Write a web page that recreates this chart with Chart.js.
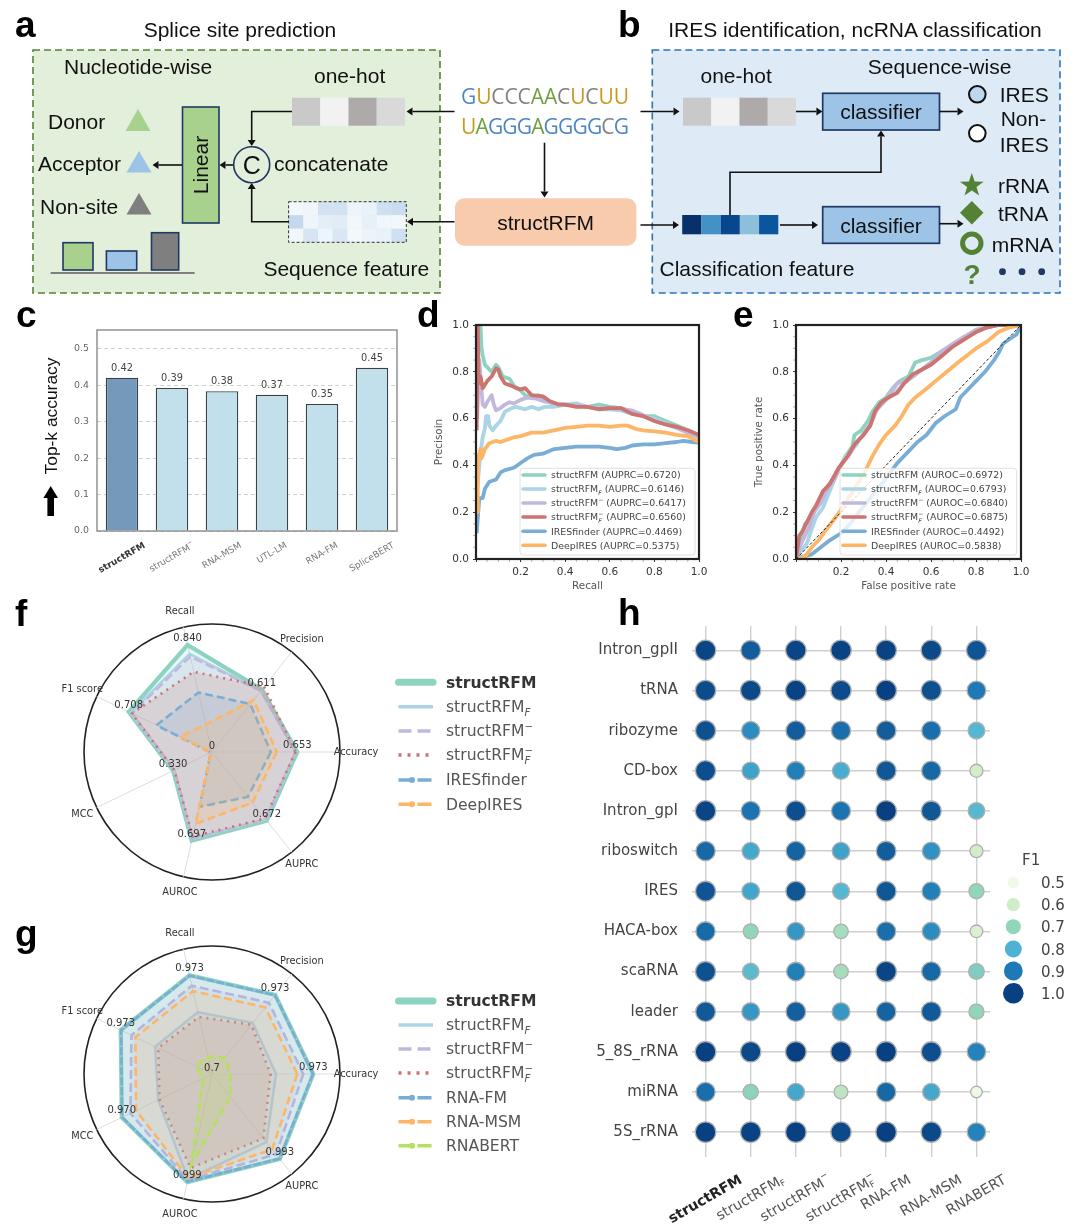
<!DOCTYPE html>
<html>
<head>
<meta charset="utf-8">
<title>structRFM figure</title>
<script src="https://cdn.jsdelivr.net/npm/chart.js@4"></script>
<style>
html, body { margin: 0; padding: 0; background: #fff; }
#page { position: relative; width: 1080px; height: 1232px; overflow: hidden; filter: blur(0.35px); }
#page canvas { position: absolute; }
#overlay { position: absolute; left: 0; top: 0; }
</style>
</head>
<body>
<div id="page"></div>
<script>
// panel c
var topkModels = ["structRFM", "structRFM⁻", "RNA-MSM", "UTL-LM", "RNA-FM", "SpliceBERT"];
var topkValues = [0.421, 0.393, 0.384, 0.374, 0.349, 0.448];

// panel d, precision-recall curves [recall, precision]
var prStructRFM = [[0.015,1],[0.02,1],[0.025,0.9],[0.03,0.87],[0.04,0.83],[0.05,0.82],[0.07,0.8],[0.09,0.83],[0.1,0.82],[0.12,0.78],[0.15,0.77],[0.17,0.74],[0.2,0.72],[0.22,0.7],[0.25,0.69],[0.28,0.7],[0.3,0.69],[0.33,0.67],[0.37,0.66],[0.4,0.66],[0.45,0.655],[0.5,0.65],[0.55,0.66],[0.6,0.65],[0.65,0.645],[0.7,0.63],[0.75,0.61],[0.8,0.61],[0.85,0.59],[0.9,0.57],[0.95,0.55],[1,0.53]];
var prStructRFMF = [[0.005,0.3],[0.02,0.45],[0.03,0.52],[0.04,0.56],[0.045,0.61],[0.055,0.61],[0.06,0.57],[0.075,0.55],[0.09,0.57],[0.11,0.59],[0.13,0.63],[0.16,0.645],[0.18,0.65],[0.2,0.645],[0.22,0.64],[0.25,0.65],[0.28,0.64],[0.31,0.65],[0.35,0.65],[0.4,0.66],[0.45,0.665],[0.5,0.65],[0.55,0.64],[0.6,0.64],[0.65,0.635],[0.7,0.62],[0.75,0.61],[0.8,0.6],[0.85,0.58],[0.9,0.56],[0.95,0.55],[1,0.52]];
var prStructRFMm = [[0.005,0.6],[0.015,0.85],[0.02,0.78],[0.03,0.66],[0.04,0.65],[0.05,0.67],[0.07,0.7],[0.08,0.66],[0.09,0.635],[0.11,0.645],[0.13,0.66],[0.15,0.67],[0.17,0.665],[0.2,0.68],[0.23,0.69],[0.27,0.685],[0.3,0.675],[0.35,0.665],[0.4,0.66],[0.45,0.655],[0.5,0.65],[0.55,0.645],[0.6,0.645],[0.65,0.64],[0.7,0.635],[0.75,0.615],[0.8,0.59],[0.85,0.575],[0.9,0.56],[0.95,0.54],[1,0.52]];
var prStructRFMFm = [[0.003,0.55],[0.008,1],[0.012,0.75],[0.02,0.78],[0.03,0.73],[0.05,0.76],[0.07,0.78],[0.09,0.815],[0.1,0.81],[0.11,0.78],[0.13,0.75],[0.16,0.74],[0.18,0.73],[0.2,0.725],[0.22,0.73],[0.25,0.7],[0.3,0.695],[0.33,0.675],[0.37,0.66],[0.4,0.66],[0.45,0.65],[0.5,0.65],[0.55,0.64],[0.6,0.645],[0.65,0.645],[0.7,0.62],[0.75,0.61],[0.8,0.59],[0.85,0.575],[0.9,0.565],[0.95,0.55],[1,0.53]];
var prIRESfinder = [[0.003,0.11],[0.01,0.2],[0.015,0.26],[0.03,0.26],[0.04,0.3],[0.06,0.33],[0.09,0.34],[0.11,0.37],[0.13,0.38],[0.17,0.39],[0.2,0.41],[0.23,0.43],[0.26,0.445],[0.3,0.45],[0.35,0.47],[0.4,0.475],[0.45,0.48],[0.5,0.48],[0.55,0.48],[0.6,0.475],[0.63,0.47],[0.67,0.475],[0.7,0.485],[0.75,0.49],[0.8,0.49],[0.85,0.495],[0.9,0.5],[0.93,0.505],[0.97,0.5],[1,0.497]];
var prDeepIRES = [[0.005,0.2],[0.008,0.35],[0.01,0.43],[0.02,0.47],[0.025,0.43],[0.04,0.47],[0.06,0.495],[0.09,0.505],[0.11,0.5],[0.14,0.51],[0.17,0.52],[0.2,0.525],[0.25,0.54],[0.3,0.54],[0.35,0.55],[0.4,0.56],[0.45,0.565],[0.5,0.57],[0.55,0.57],[0.6,0.565],[0.65,0.57],[0.68,0.57],[0.72,0.555],[0.75,0.55],[0.8,0.545],[0.85,0.54],[0.9,0.53],[0.95,0.525],[1,0.5]];
var auprcValues = ["0.6720", "0.6146", "0.6417", "0.6560", "0.4469", "0.5375"];

// panel e, ROC curves [fpr, tpr]
var rocStructRFM = [[0,0],[0.01,0.05],[0.02,0.09],[0.04,0.15],[0.06,0.17],[0.08,0.2],[0.1,0.24],[0.12,0.28],[0.14,0.31],[0.17,0.35],[0.2,0.4],[0.22,0.44],[0.25,0.48],[0.26,0.53],[0.29,0.55],[0.32,0.59],[0.34,0.63],[0.37,0.67],[0.4,0.69],[0.43,0.73],[0.46,0.76],[0.5,0.78],[0.53,0.84],[0.56,0.85],[0.6,0.86],[0.65,0.89],[0.7,0.92],[0.75,0.95],[0.8,0.97],[0.85,0.99],[0.9,1],[1,1]];
var rocStructRFMF = [[0,0],[0.02,0.03],[0.05,0.07],[0.07,0.13],[0.09,0.18],[0.12,0.22],[0.15,0.29],[0.18,0.36],[0.21,0.42],[0.24,0.46],[0.27,0.49],[0.3,0.54],[0.33,0.58],[0.36,0.64],[0.4,0.68],[0.44,0.71],[0.48,0.75],[0.52,0.78],[0.56,0.81],[0.6,0.84],[0.65,0.88],[0.7,0.92],[0.75,0.95],[0.8,0.97],[0.85,0.99],[0.9,1],[1,1]];
var rocStructRFMm = [[0,0],[0.02,0.06],[0.04,0.1],[0.06,0.14],[0.08,0.2],[0.11,0.24],[0.14,0.3],[0.17,0.34],[0.2,0.4],[0.24,0.45],[0.27,0.5],[0.3,0.53],[0.33,0.57],[0.36,0.64],[0.39,0.67],[0.42,0.71],[0.45,0.75],[0.48,0.76],[0.52,0.78],[0.56,0.81],[0.6,0.84],[0.65,0.89],[0.7,0.92],[0.75,0.95],[0.8,0.98],[0.85,0.99],[0.9,1],[1,1]];
var rocStructRFMFm = [[0,0],[0.015,0.1],[0.03,0.12],[0.05,0.16],[0.07,0.2],[0.09,0.23],[0.12,0.29],[0.15,0.32],[0.19,0.39],[0.23,0.44],[0.26,0.49],[0.3,0.53],[0.33,0.57],[0.35,0.63],[0.38,0.67],[0.41,0.69],[0.45,0.71],[0.48,0.75],[0.52,0.79],[0.56,0.81],[0.6,0.83],[0.65,0.87],[0.7,0.91],[0.75,0.94],[0.8,0.97],[0.85,0.99],[0.9,1],[1,1]];
var rocIRESfinder = [[0,0],[0.03,0.01],[0.07,0.02],[0.11,0.05],[0.15,0.08],[0.2,0.11],[0.24,0.15],[0.28,0.2],[0.33,0.26],[0.38,0.32],[0.42,0.37],[0.45,0.41],[0.5,0.46],[0.54,0.5],[0.58,0.53],[0.62,0.58],[0.66,0.61],[0.71,0.64],[0.73,0.69],[0.76,0.72],[0.8,0.76],[0.84,0.8],[0.88,0.85],[0.9,0.88],[0.92,0.92],[0.95,0.94],[0.98,0.96],[1,1]];
var rocDeepIRES = [[0,0],[0.04,0.01],[0.07,0.05],[0.1,0.08],[0.13,0.12],[0.17,0.17],[0.2,0.21],[0.24,0.27],[0.28,0.33],[0.31,0.38],[0.34,0.44],[0.37,0.49],[0.4,0.53],[0.44,0.57],[0.47,0.61],[0.5,0.66],[0.53,0.69],[0.57,0.72],[0.62,0.76],[0.67,0.8],[0.72,0.84],[0.76,0.87],[0.8,0.9],[0.85,0.93],[0.9,0.97],[0.95,0.99],[1,1]];
var rocDiagonal = [[0,0],[1,1]];
var aurocValues = ["0.6972", "0.6793", "0.6840", "0.6875", "0.4492", "0.5838"];

var curveNames = ["structRFM", "structRFM_F", "structRFM⁻", "structRFM_F⁻", "IRESfinder", "DeepIRES"];

// panels f and g, clockwise from the east
var radarAxes = ["Accuracy", "AUPRC", "AUROC", "MCC", "F1 score", "Recall", "Precision"];

var fStructRFM = [0.653, 0.672, 0.697, 0.330, 0.708, 0.840, 0.611];
var fStructRFMF = [0.64, 0.66, 0.68, 0.32, 0.69, 0.77, 0.60];
var fStructRFMm = [0.64, 0.66, 0.68, 0.32, 0.68, 0.75, 0.60];
var fStructRFMFm = [0.64, 0.65, 0.665, 0.32, 0.68, 0.63, 0.64];
var fIRESfinder = [0.45, 0.44, 0.43, 0.01, 0.472, 0.467, 0.47];
var fDeepIRES = [0.495, 0.497, 0.564, 0.01, 0.273, 0.215, 0.51];

var gStructRFM = [0.973, 0.993, 0.999, 0.970, 0.973, 0.973, 0.973];
var gStructRFMF = [0.8725, 0.935, 0.99, 0.861, 0.87, 0.871, 0.876];
var gStructRFMm = [0.946, 0.977, 0.993, 0.944, 0.941, 0.944, 0.946];
var gStructRFMFm = [0.858, 0.922, 0.96, 0.857, 0.861, 0.858, 0.87];
var gRNAFM = [0.972, 0.992, 0.998, 0.969, 0.972, 0.972, 0.972];
var gRNAMSM = [0.93, 0.96, 0.987, 0.927, 0.929, 0.929, 0.93];
var gRNABERT = [0.75, 0.779, 0.951, 0.727, 0.748, 0.748, 0.757];

// panel h
var ncrnaClasses = ["Intron_gpII", "tRNA", "ribozyme", "CD-box", "Intron_gpI", "riboswitch", "IRES", "HACA-box", "scaRNA", "leader", "5_8S_rRNA", "miRNA", "5S_rRNA"];
var f1Models = ["structRFM", "structRFM_F", "structRFM⁻", "structRFM_F⁻", "RNA-FM", "RNA-MSM", "RNABERT"];
var f1Intron2 = [0.99, 0.95, 0.99, 0.995, 0.995, 0.985, 0.965];
var f1Trna = [0.98, 0.985, 0.995, 0.98, 1.0, 0.97, 0.90];
var f1Ribozyme = [0.97, 0.87, 0.95, 0.92, 0.95, 0.92, 0.79];
var f1CdBox = [0.975, 0.83, 0.89, 0.81, 0.96, 0.93, 0.59];
var f1Intron1 = [0.99, 0.91, 0.975, 0.91, 1.0, 0.96, 0.785];
var f1Riboswitch = [0.93, 0.82, 0.94, 0.83, 0.95, 0.86, 0.59];
var f1Ires = [0.965, 0.825, 0.96, 0.79, 0.96, 0.89, 0.70];
var f1Haca = [0.925, 0.70, 0.85, 0.67, 0.92, 0.87, 0.57];
var f1Sca = [0.97, 0.78, 0.89, 0.67, 0.99, 0.93, 0.73];
var f1Leader = [0.955, 0.85, 0.945, 0.85, 0.94, 0.955, 0.70];
var f1Rna58 = [1.0, 0.985, 1.0, 0.995, 1.0, 0.975, 0.885];
var f1Mirna = [0.92, 0.71, 0.82, 0.63, 0.93, 0.82, 0.51];
var f1Rna5 = [1.0, 0.995, 1.0, 0.985, 1.0, 0.985, 0.885];
var f1Rows = [f1Intron2, f1Trna, f1Ribozyme, f1CdBox, f1Intron1, f1Riboswitch, f1Ires, f1Haca, f1Sca, f1Leader, f1Rna58, f1Mirna, f1Rna5];
var f1LegendTicks = [0.5, 0.6, 0.7, 0.8, 0.9, 1.0];

// series colours
var TEAL = "#8dd3c0", SKY = "#abd4e6", LAV = "#c2b8dc", RED = "#cb7470", BLUE = "#79add5", ORANGE = "#fdb566", LIME = "#b5e061";

Chart.defaults.font.family = '"DejaVu Sans"';
Chart.defaults.color = "#444";
Chart.defaults.animation = false;
Chart.defaults.responsive = false;
Chart.defaults.plugins.legend.display = false;
Chart.defaults.plugins.tooltip.enabled = false;

var page = document.getElementById("page");

function addChart(box, m, cfg) {
    var cv = document.createElement("canvas");
    cv.width = Math.round(box.w + m.l + m.r);
    cv.height = Math.round(box.h + m.t + m.b);
    cv.style.left = (box.x - m.l) + "px";
    cv.style.top = (box.y - m.t) + "px";
    page.appendChild(cv);
    cfg.options = cfg.options || {};
    var radial = cfg.type === "radar";
    cfg.options.layout = { autoPadding: false, padding: { top: m.t, right: m.r, left: radial ? m.l : 0, bottom: radial ? m.b : 0 } };
    if (cfg.options.scales && cfg.options.scales.x) cfg.options.scales.x.afterFit = function (s) {
        s.height = m.b; s.paddingLeft = 0; s.paddingRight = 0;
    };
    if (cfg.options.scales && cfg.options.scales.y) cfg.options.scales.y.afterFit = function (s) {
        s.width = m.l; s.paddingTop = 0; s.paddingBottom = 0;
    };
    return new Chart(cv.getContext("2d"), cfg);
}

// draws "structRFM", subscript F and superscript minus
function drawRich(ctx, label, x, size, weight, measureOnly) {
    var hit = /^(structRFM)(_F)?(⁻)?$/.exec(label);
    var mainText = hit ? hit[1] : label;
    ctx.font = weight + " " + size + 'px "DejaVu Sans"';
    var w = ctx.measureText(mainText).width;
    if (!measureOnly) ctx.fillText(mainText, x, 0);
    var extra = 0;
    if (hit && (hit[2] || hit[3])) {
        ctx.font = weight + " " + (size * 0.62) + 'px "DejaVu Sans"';
        if (hit[2]) {
            extra = ctx.measureText("F").width;
            if (!measureOnly) ctx.fillText("F", x + w, size * 0.25);
        }
        if (hit[3]) {
            extra = Math.max(extra, ctx.measureText("−").width);
            if (!measureOnly) ctx.fillText("−", x + w, -size * 0.42);
        }
    }
    return w + extra;
}

var tiltedLabels = {
    id: "tiltedLabels",
    afterDraw: function (chart, args, o) {
        var ctx = chart.ctx, sc = chart.scales.x, a = o.angle * Math.PI / 180;
        o.labels.forEach(function (lab, i) {
            var weight = i === 0 ? "bold" : "normal";
            ctx.save();
            var w = drawRich(ctx, lab, 0, o.size, weight, true);
            var bh = w * Math.sin(a) + o.size * Math.cos(a);
            ctx.translate(sc.getPixelForValue(i), chart.chartArea.bottom + o.top + bh / 2);
            ctx.rotate(-a);
            ctx.fillStyle = i === 0 ? o.boldColor : o.color;
            ctx.textBaseline = "middle";
            ctx.textAlign = "left";
            drawRich(ctx, lab, -w / 2, o.size, weight, false);
            ctx.restore();
        });
    }
};

var frame = {
    id: "frame",
    afterDraw: function (chart, args, o) {
        var a = chart.chartArea, ctx = chart.ctx;
        ctx.save();
        ctx.strokeStyle = o.color;
        ctx.lineWidth = o.width;
        ctx.strokeRect(a.left, a.top, a.right - a.left, a.bottom - a.top);
        ctx.restore();
    }
};

var minorTicks = {
    id: "minorTicks",
    afterDraw: function (chart) {
        var ctx = chart.ctx, a = chart.chartArea;
        ctx.save();
        ctx.strokeStyle = "#a3b9d8";
        ctx.lineWidth = 1;
        for (var k = 1; k < 20; k++) {
            if (k % 4 === 0) continue;
            var px = chart.scales.x.getPixelForValue(k / 20);
            var py = chart.scales.y.getPixelForValue(k / 20);
            ctx.beginPath();
            ctx.moveTo(px, a.bottom + 1); ctx.lineTo(px, a.bottom + 3);
            ctx.moveTo(a.left - 1, py); ctx.lineTo(a.left - 3, py);
            ctx.stroke();
        }
        ctx.restore();
    }
};

var barValues = {
    id: "barValues",
    afterDatasetsDraw: function (chart) {
        var ctx = chart.ctx, meta = chart.getDatasetMeta(0);
        ctx.save();
        ctx.font = '9.8px "DejaVu Sans"';
        ctx.fillStyle = "#444";
        ctx.textAlign = "center";
        ctx.textBaseline = "middle";
        meta.data.forEach(function (el, i) {
            ctx.fillText(topkValues[i].toFixed(2), el.x, el.y - 9.5);
        });
        ctx.restore();
    }
};

// panel c
addChart({ x: 97, y: 330, w: 300, h: 201 }, { l: 36, r: 8, t: 8, b: 60 }, {
    type: "bar",
    data: {
        labels: topkModels,
        datasets: [{
            data: topkValues,
            backgroundColor: ["#7499bb", "#c2e0ec", "#c2e0ec", "#c2e0ec", "#c2e0ec", "#c2e0ec"],
            borderColor: "#3a4248",
            borderWidth: 1.4,
            barPercentage: 0.65,
            categoryPercentage: 1
        }]
    },
    options: {
        scales: {
            x: { grid: { display: false }, border: { display: false }, ticks: { display: false } },
            y: {
                min: 0, max: 0.552,
                border: { display: false, dash: [4, 3] },
                grid: { color: "#c4c4c4", lineWidth: 0.8, drawTicks: false },
                ticks: { stepSize: 0.1, includeBounds: false, padding: 8, color: "#666", font: { size: 9.4 },
                    callback: function (v) { return v.toFixed(1); } }
            }
        },
        plugins: {
            frame: { color: "#8a8a8a", width: 1.4 },
            tiltedLabels: { labels: topkModels, angle: 30, size: 9, top: 10, color: "#777", boldColor: "#333" }
        }
    },
    plugins: [barValues, tiltedLabels, frame]
});

function curveDataset(points, color, order) {
    return { data: points, showLine: true, borderColor: color, borderWidth: 3.8, pointRadius: 0, order: order, tension: 0, borderJoinStyle: "round" };
}

function curveOptions(xTitle, yTitle) {
    function tick(v) { return v.toFixed(1); }
    return {
        scales: {
            x: {
                type: "linear", min: 0, max: 1, border: { display: false },
                grid: { drawOnChartArea: false, tickLength: 3, color: "#333" },
                title: { display: true, text: xTitle, color: "#555", font: { size: 10.4 }, padding: 0 },
                ticks: { stepSize: 0.2, padding: 4, color: "#333", font: { size: 10.5 }, maxRotation: 0,
                    callback: function (v) { return v === 0 ? "" : tick(v); } }
            },
            y: {
                type: "linear", min: 0, max: 1, border: { display: false },
                grid: { drawOnChartArea: false, tickLength: 3, color: "#333" },
                title: { display: true, text: yTitle, color: "#555", font: { size: 10.4 }, padding: 0 },
                ticks: { stepSize: 0.2, padding: 4, color: "#333", font: { size: 10.5 }, callback: tick }
            }
        },
        plugins: { frame: { color: "#222", width: 2.2 } }
    };
}

// panel d
addChart({ x: 476, y: 325, w: 223, h: 234 }, { l: 43, r: 12, t: 8, b: 34 }, {
    type: "scatter",
    data: { datasets: [
        curveDataset(prStructRFM, TEAL, 6),
        curveDataset(prStructRFMF, SKY, 5),
        curveDataset(prStructRFMm, LAV, 4),
        curveDataset(prStructRFMFm, RED, 3),
        curveDataset(prIRESfinder, BLUE, 2),
        curveDataset(prDeepIRES, ORANGE, 1)
    ] },
    options: curveOptions("Recall", "Precisoin"),
    plugins: [minorTicks, frame]
});

// panel e
addChart({ x: 796, y: 325, w: 224.5, h: 234 }, { l: 43, r: 12, t: 8, b: 34 }, {
    type: "scatter",
    data: { datasets: [
        curveDataset(rocStructRFM, TEAL, 6),
        curveDataset(rocStructRFMF, SKY, 5),
        curveDataset(rocStructRFMm, LAV, 4),
        curveDataset(rocStructRFMFm, RED, 3),
        curveDataset(rocIRESfinder, BLUE, 2),
        curveDataset(rocDeepIRES, ORANGE, 1),
        { data: rocDiagonal, showLine: true, borderColor: "#222", borderWidth: 1, borderDash: [3, 2], pointRadius: 0, order: 0 }
    ] },
    options: curveOptions("False positive rate", "True positive rate"),
    plugins: [minorTicks, frame]
});

var radarText = {
    id: "radarText",
    afterDraw: function (chart, args, o) {
        var ctx = chart.ctx, r = chart.scales.r;
        ctx.save();
        ctx.font = '9.8px "DejaVu Sans"';
        ctx.fillStyle = "#333";
        ctx.textAlign = "center";
        ctx.textBaseline = "middle";
        radarAxes.forEach(function (name, i) {
            var p = r.getPointPosition(i, r.drawingArea * 1.125);
            ctx.fillText(name, p.x, p.y);
        });
        ctx.font = '10px "DejaVu Sans"';
        o.values.forEach(function (v, i) {
            var p = r.getPointPositionForValue(i, v);
            ctx.fillText(v.toFixed(3), p.x, p.y - 6.7);
        });
        ctx.fillText(o.centre, r.xCenter, r.yCenter - 5.5);
        ctx.restore();
    }
};

function radarDataset(values, color, width, dash, order) {
    return { data: values, borderColor: color, backgroundColor: color + "2e", borderWidth: width, borderDash: dash, pointRadius: 0, fill: true, order: order, tension: 0, borderJoinStyle: "miter" };
}

function addRadar(cx, cy, R, rMin, rMax, datasets, values, centre) {
    var pad = 50;
    addChart({ x: cx - R, y: cy - R, w: 2 * R, h: 2 * R }, { l: pad, r: pad, t: pad, b: pad }, {
        type: "radar",
        data: { labels: radarAxes, datasets: datasets },
        options: {
            scales: {
                r: {
                    min: rMin, max: rMax, startAngle: 90,
                    ticks: { display: false, stepSize: rMax - rMin },
                    pointLabels: { display: false },
                    angleLines: { color: "#dcdcdc", lineWidth: 1 },
                    grid: { circular: true, color: "#222", lineWidth: 1.6 }
                }
            },
            plugins: { radarText: { values: values, centre: centre } }
        },
        plugins: [radarText]
    });
}

// panel f
addRadar(212, 752, 128, 0, 0.98, [
    radarDataset(fStructRFM, TEAL, 4.2, [], 6),
    radarDataset(fStructRFMF, SKY, 2.6, [], 5),
    radarDataset(fStructRFMm, LAV, 2.6, [9, 4], 4),
    radarDataset(fStructRFMFm, RED, 2.6, [2, 5], 3),
    radarDataset(fIRESfinder, BLUE, 2.6, [8, 4], 2),
    radarDataset(fDeepIRES, ORANGE, 2.6, [8, 4], 1)
], fStructRFM, "0");

// panel g
addRadar(212, 1074, 128, 0.7, 1.045, [
    radarDataset(gStructRFM, TEAL, 4.2, [], 7),
    radarDataset(gStructRFMF, SKY, 2.6, [], 6),
    radarDataset(gStructRFMm, LAV, 2.6, [9, 4], 5),
    radarDataset(gStructRFMFm, RED, 2.6, [2, 5], 4),
    radarDataset(gRNAFM, BLUE, 2.6, [8, 2], 3),
    radarDataset(gRNAMSM, ORANGE, 2.6, [8, 4], 2),
    radarDataset(gRNABERT, LIME, 2.6, [8, 4], 1)
], gStructRFM, "0.7");

// GnBu stops for the F1 colour
var gnbuStops = [[0.5, [240, 249, 232]], [0.6, [208, 236, 200]], [0.7, [146, 214, 186]], [0.8, [78, 179, 211]], [0.9, [29, 122, 182]], [1.0, [8, 64, 129]]];
function gnbu(v) {
    for (var i = 1; i < gnbuStops.length; i++) {
        if (v <= gnbuStops[i][0]) {
            var a = gnbuStops[i - 1], b = gnbuStops[i], f = Math.max(0, (v - a[0]) / (b[0] - a[0]));
            return "rgb(" + a[1].map(function (c, k) { return Math.round(c + (b[1][k] - c) * f); }).join(",") + ")";
        }
    }
    return "rgb(8,64,129)";
}
function f1Radius(v) { return 5.7 + (v - 0.5) * 9.2; }

var f1Points = [];
f1Rows.forEach(function (row, r) {
    row.forEach(function (v, c) { f1Points.push({ x: c, y: r, r: f1Radius(v), v: v }); });
});

// panel h
addChart({ x: 691.7, y: 626, w: 297.6, h: 530.7 }, { l: 110, r: 50, t: 4, b: 72 }, {
    type: "bubble",
    data: { datasets: [{
        data: f1Points,
        backgroundColor: function (c) { return c.raw ? gnbu(c.raw.v) : "#000"; },
        borderColor: "#b0b0b0",
        borderWidth: 1.3,
        clip: false
    }] },
    options: {
        scales: {
            x: {
                type: "linear", min: -0.3, max: 6.3, border: { display: false },
                afterBuildTicks: function (s) { s.ticks = f1Models.map(function (m, i) { return { value: i }; }); },
                grid: { color: "#cfcfcf", lineWidth: 1.4, drawTicks: false },
                ticks: { display: false, autoSkip: false }
            },
            y: {
                type: "linear", min: -0.606, max: 12.62, reverse: true, border: { display: false },
                afterBuildTicks: function (s) { s.ticks = ncrnaClasses.map(function (m, i) { return { value: i }; }); },
                grid: { color: "#cfcfcf", lineWidth: 1.4, drawTicks: false },
                ticks: { autoSkip: false, padding: 14, color: "#444", font: { size: 15 },
                    callback: function (v) { return ncrnaClasses[v]; } }
            }
        },
        plugins: {
            tiltedLabels: { labels: f1Models, angle: 30, size: 14.2, top: 16, color: "#555", boldColor: "#222" }
        }
    },
    plugins: [tiltedLabels]
});

// ---- schematic panels and legends as an svg layer on top ----
var svg = [];
var AR = "Liberation Sans, Arial, sans-serif", DV = "DejaVu Sans";
function txt(x, y, s, size, o) {
    o = o || {};
    svg.push('<text x="' + x + '" y="' + y + '" font-family="' + (o.font || AR) + '" font-size="' + size + '" fill="' + (o.fill || "#111") + '"' +
        (o.anchor ? ' text-anchor="' + o.anchor + '"' : "") + (o.bold ? ' font-weight="bold"' : "") +
        (o.rot ? ' transform="rotate(' + o.rot + " " + x + " " + y + ')"' : "") + ">" + s + "</text>");
}
function rect(x, y, w, h, fill, stroke, sw, extra) {
    svg.push('<rect x="' + x + '" y="' + y + '" width="' + w + '" height="' + h + '" fill="' + fill + '"' +
        (stroke ? ' stroke="' + stroke + '" stroke-width="' + (sw || 1) + '"' : "") + " " + (extra || "") + "/>");
}
function poly(points, fill) {
    svg.push('<polygon points="' + points.map(function (p) { return p.join(","); }).join(" ") + '" fill="' + fill + '"/>');
}
function arrow(points) {
    var n = points.length, a = points[n - 2], b = points[n - 1];
    var dx = b[0] - a[0], dy = b[1] - a[1], l = Math.sqrt(dx * dx + dy * dy);
    dx /= l; dy /= l;
    var end = [b[0] - dx * 6, b[1] - dy * 6];
    var line = points.slice(0, n - 1).concat([end]);
    svg.push('<polyline points="' + line.map(function (p) { return p.join(","); }).join(" ") + '" fill="none" stroke="#111" stroke-width="1.6"/>');
    poly([b, [end[0] - dy * 4, end[1] + dx * 4], [end[0] + dy * 4, end[1] - dx * 4]], "#111");
}
function tri(cx, top, bottom, half, fill) { poly([[cx, top], [cx - half, bottom], [cx + half, bottom]], fill); }

var PANEL_DARK = "#1f3864";
var oneHotColors = ["#c9c9c9", "#f2f2f2", "#aeaaaa", "#d9d9d9"];
var featureColors = ["#08306b", "#4292c6", "#08478f", "#8cbfdc", "#0b559f"];
var heatColors = [
    ["#f3f8fd", "#eff5fb", "#d3e2f3", "#d3e2f3", "#eef4fb", "#e9f1f9", "#cfe0f2", "#c9dcf0"],
    ["#c5d9ee", "#eff5fb", "#e4eef8", "#e2ecf7", "#f2f7fc", "#e7f0f9", "#f0f6fc", "#f2f7fc"],
    ["#f2f7fc", "#d6e4f3", "#eef4fb", "#d9e6f4", "#f3f8fd", "#edf3fa", "#e9f1f9", "#cfe0f2"]
];

// panel letters
[["a", 15, 37], ["b", 618, 37], ["c", 16, 327], ["d", 417, 327], ["e", 733, 327], ["f", 15, 626], ["g", 15, 946], ["h", 618, 625]].forEach(function (p) {
    txt(p[1], p[2], p[0], 37, { bold: true, fill: "#000" });
});

// panel a
txt(240, 37, "Splice site prediction", 21, { anchor: "middle" });
rect(33, 50, 407, 243, "#e2efda", "#548235", 1.6, 'stroke-dasharray="7 4"');
txt(64, 74, "Nucleotide-wise", 21);
txt(314, 83, "one-hot", 21);
txt(48, 129, "Donor", 21);
tri(138, 109, 131, 12.5, "#a9d18e");
txt(38, 171, "Acceptor", 21);
tri(139, 151, 172.5, 12.5, "#9dc3e6");
txt(40, 214, "Non-site", 21);
tri(139, 193, 214.5, 12.5, "#7f7f7f");
rect(182.5, 107, 36.5, 116, "#a9d18e", PANEL_DARK, 1.6);
txt(208, 165, "Linear", 21, { anchor: "middle", rot: -90 });
svg.push('<circle cx="251.7" cy="164.7" r="18" fill="none" stroke="' + PANEL_DARK + '" stroke-width="1.6"/>');
txt(251.7, 173.5, "C", 25, { anchor: "middle" });
txt(274, 171, "concatenate", 21);
oneHotColors.forEach(function (c, i) { rect(292 + i * 28.25, 97.7, 28.25, 28, c); });
arrow([[454.5, 111.5], [406.5, 111.5]]);
arrow([[292, 111.5], [251.7, 111.5], [251.7, 146]]);
arrow([[233, 165], [219.5, 165]]);
arrow([[182, 165], [152.5, 165]]);
heatColors.forEach(function (row, r) {
    row.forEach(function (c, k) { rect(288.6 + k * 14.7, 201.7 + r * 13.53, 14.7, 13.53, c); });
});
rect(288.6, 201.7, 117.7, 40.6, "none", "#333", 1, 'stroke-dasharray="3 2"');
arrow([[454.5, 221.7], [407, 221.7]]);
arrow([[288.6, 221.7], [251.7, 221.7], [251.7, 183]]);
txt(263.4, 276, "Sequence feature", 21);
rect(63, 242.7, 30, 27.3, "#a9d18e", PANEL_DARK, 1.6);
rect(106.4, 251, 30.3, 19, "#9dc3e6", PANEL_DARK, 1.6);
rect(151.5, 232.7, 27.2, 37.3, "#7f7f7f", PANEL_DARK, 1.6);
svg.push('<line x1="50.6" y1="273" x2="194.6" y2="273" stroke="#7f7f7f" stroke-width="2"/>');

// sequences
var seqColors = { A: "#6d9f3b", C: "#808080", G: "#4a86c5", U: "#c99a1f" };
function seqLine(y, s) {
    var parts = s.split("").map(function (ch) { return '<tspan fill="' + seqColors[ch] + '">' + ch + "</tspan>"; }).join("");
    svg.push('<text x="461" y="' + y + '" font-family="Open Sans" font-size="21" textLength="168" lengthAdjust="spacing">' + parts + "</text>");
}
seqLine(104, "GUCCCAACUCUU");
seqLine(134, "UAGGGAGGGGCG");
arrow([[544.5, 142.7], [544.5, 197.5]]);
rect(455, 198.3, 181.4, 47.4, "#f8cbad", null, 0, 'rx="9"');
txt(545.7, 230, "structRFM", 21, { anchor: "middle" });

// panel b
txt(855, 37, "IRES identification, ncRNA classification", 21, { anchor: "middle" });
rect(652.3, 50, 407.7, 243, "#deebf7", "#2e75b6", 1.6, 'stroke-dasharray="7 4"');
txt(867.8, 74, "Sequence-wise", 21);
txt(700.5, 83, "one-hot", 21);
oneHotColors.forEach(function (c, i) { rect(683 + i * 28.25, 97.7, 28.25, 28, c); });
arrow([[640.5, 111.5], [679.5, 111.5]]);
arrow([[796, 111.5], [822.4, 111.5]]);
rect(822.7, 93.3, 116.8, 36.7, "#9dc3e6", PANEL_DARK, 1.7);
txt(881, 119, "classifier", 21, { anchor: "middle" });
arrow([[939.5, 111.5], [963.5, 111.5]]);
svg.push('<circle cx="977.3" cy="94.3" r="8.3" fill="#bdd7ee" stroke="#111" stroke-width="2"/>');
svg.push('<circle cx="977.3" cy="133.3" r="8.3" fill="#fff" stroke="#111" stroke-width="2"/>');
txt(999.7, 102, "IRES", 21);
txt(1000.7, 126, "Non-", 21);
txt(999.7, 152, "IRES", 21);
featureColors.forEach(function (c, i) { rect(682.2 + i * 19.22, 215, 19.22, 19.3, c); });
arrow([[640.5, 225], [679, 225]]);
arrow([[780, 225], [818, 225]]);
rect(822.7, 206.7, 116.8, 36.6, "#9dc3e6", PANEL_DARK, 1.7);
txt(881, 233, "classifier", 21, { anchor: "middle" });
arrow([[730, 215], [730, 172.3], [881, 172.3], [881, 130.5]]);
arrow([[939.5, 223.7], [963.5, 223.7]]);
var star = [];
for (var si = 0; si < 10; si++) {
    var rad = si % 2 ? 4.9 : 12.5, ang = -Math.PI / 2 + si * Math.PI / 5;
    star.push([971.8 + rad * Math.cos(ang), 185.5 + rad * Math.sin(ang)]);
}
poly(star, "#548235");
poly([[971.8, 201], [983.5, 212.7], [971.8, 224.4], [960, 212.7]], "#548235");
svg.push('<circle cx="971.8" cy="243.3" r="9.2" fill="none" stroke="#548235" stroke-width="5"/>');
txt(972, 284, "?", 28, { anchor: "middle", bold: true, fill: "#548235" });
txt(998, 192.7, "rRNA", 21);
txt(998, 221, "tRNA", 21);
txt(991.8, 252.3, "mRNA", 21);
[1002.5, 1022, 1041.7].forEach(function (x) {
    svg.push('<circle cx="' + x + '" cy="271.7" r="3.4" fill="' + PANEL_DARK + '"/>');
});
txt(659.5, 276, "Classification feature", 21);

// panel c axis title and arrow
txt(56.5, 416, "Top-k accuracy", 17.4, { anchor: "middle", rot: -90 });
poly([[50.7, 486], [58, 498], [54, 498], [54, 516], [47.4, 516], [47.4, 498], [43.4, 498]], "#000");

// series label with sub and superscript
function richLabel(name, size) {
    var hit = /^(structRFM)(_F)?(⁻)?$/.exec(name);
    if (!hit) return name;
    var small = size * 0.65, s = hit[1];
    if (hit[2]) s += '<tspan font-size="' + small + '" font-style="italic" dy="' + size * 0.24 + '">F</tspan>';
    if (hit[3]) {
        var back = hit[2] ? small * 0.57 : 0;
        var up = hit[2] ? size * 0.68 : size * 0.42;
        s += '<tspan font-size="' + small + '" dx="' + (-back) + '" dy="' + (-up) + '">−</tspan>';
        if (hit[2]) s += '<tspan dy="' + size * 0.44 + '"> </tspan>'; else s += '<tspan dy="' + up + '"> </tspan>';
    } else if (hit[2]) {
        s += '<tspan dy="' + (-size * 0.24) + '"> </tspan>';
    }
    return s;
}

// legends of d and e
function curveLegend(boxX, boxW, metric, values) {
    var rows = [475, 489, 503, 517, 531.3, 545.3], colors = [TEAL, SKY, LAV, RED, BLUE, ORANGE];
    rect(boxX, 468.3, boxW, 86.7, "rgba(255,255,255,0.8)", "#d8d8d8", 0.8, 'rx="3"');
    rows.forEach(function (y, i) {
        svg.push('<line x1="' + (boxX + 3) + '" y1="' + y + '" x2="' + (boxX + 25) + '" y2="' + y + '" stroke="' + colors[i] + '" stroke-width="3.6" stroke-linecap="round"/>');
        txt(boxX + 31, y + 3.4, richLabel(curveNames[i], 9.4) + " (" + metric + "=" + values[i] + ")", 9.4, { font: DV, fill: "#444" });
    });
}
curveLegend(520, 175, "AUPRC", auprcValues);
curveLegend(840, 176.7, "AUROC", aurocValues);

// legends of f and g
function radarLegend(rows, names, styles) {
    rows.forEach(function (y, i) {
        var st = styles[i];
        svg.push('<line x1="398.5" y1="' + y + '" x2="433" y2="' + y + '" stroke="' + st[0] + '" stroke-width="' + st[1] + '"' +
            (st[2] ? ' stroke-dasharray="' + st[2] + '"' : "") + (i === 0 ? ' stroke-linecap="round"' : "") + "/>");
        if (st[3]) svg.push('<circle cx="412" cy="' + y + '" r="3" fill="' + st[0] + '"/>');
        txt(446, y + 5.4, richLabel(names[i], 15.6), 15.6, { font: DV, fill: i === 0 ? "#333" : "#555", bold: i === 0 });
    });
}
radarLegend([682.3, 706.7, 731, 755, 780, 804.3], curveNames, [
    [TEAL, 7, "", true], [SKY, 3.4, ""], [LAV, 3.4, "13 6"], [RED, 3.4, "3 6"], [BLUE, 3.4, "14 5", true], [ORANGE, 3.4, "14 5", true]
]);
radarLegend([1001, 1025, 1049, 1073, 1097.7, 1121.7, 1145.7],
    ["structRFM", "structRFM_F", "structRFM⁻", "structRFM_F⁻", "RNA-FM", "RNA-MSM", "RNABERT"], [
    [TEAL, 7, "", true], [SKY, 3.4, ""], [LAV, 3.4, "13 6"], [RED, 3.4, "3 6"], [BLUE, 3.4, "14 5", true], [ORANGE, 3.4, "14 5", true], [LIME, 3.4, "14 5", true]
]);

// size legend of h
txt(1022, 864.5, "F1", 15, { font: DV, fill: "#444" });
var sizeRows = [882.7, 904.7, 926.7, 949, 971, 993.3];
f1LegendTicks.forEach(function (v, i) {
    svg.push('<circle cx="1013.3" cy="' + sizeRows[i] + '" r="' + f1Radius(v) + '" fill="' + gnbu(v) + '"/>');
    txt(1041, sizeRows[i] + 5.5, v.toFixed(1), 15, { font: DV, fill: "#444" });
});

var layer = document.createElementNS("http://www.w3.org/2000/svg", "svg");
layer.setAttribute("id", "overlay");
layer.setAttribute("width", "1080");
layer.setAttribute("height", "1232");
layer.innerHTML = svg.join("");
page.appendChild(layer);
</script>
</body>
</html>
